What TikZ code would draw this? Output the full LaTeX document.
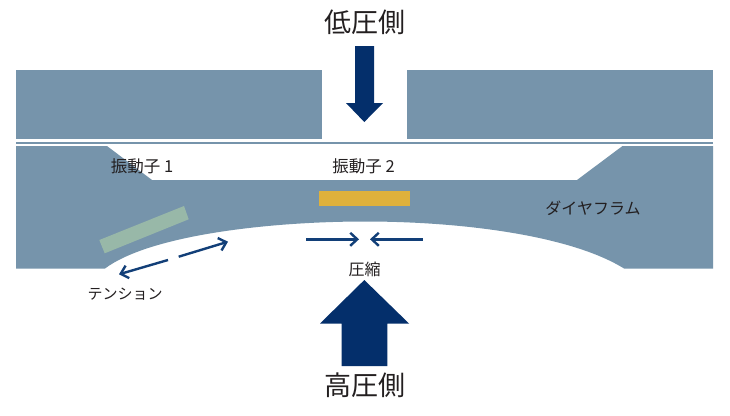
\documentclass[tikz,border=0pt]{standalone}
\usepackage{fontspec}
\setmainfont{Noto Sans CJK JP}
\usetikzlibrary{arrows.meta}
\definecolor{steel}{HTML}{7694AB}
\definecolor{navy}{HTML}{042F6B}
\definecolor{lnavy}{HTML}{123F78}
\definecolor{sage}{HTML}{98B8A8}
\definecolor{gold}{HTML}{DFB13C}
\definecolor{ink}{HTML}{231F20}
\tikzset{
 body/.style={fill=steel,draw=none},
 bigarrow/.style={fill=navy,draw=none},
 motion/.style={draw=lnavy,line width=2.4pt,-{Straight Barb[length=7pt,width=13pt,line width=2.4pt]}},
 small/.style={text=ink,font=\fontsize{16}{18}\selectfont,inner sep=0pt},
 wider/.style={text=ink,font=\fontsize{16.5}{18}\selectfont,inner sep=0pt},
 tiny/.style={text=ink,font=\fontsize{15}{18}\selectfont,inner sep=0pt},
 big/.style={text=ink,font=\fontsize{27}{30}\selectfont,inner sep=0pt},
}
\begin{document}
\begin{tikzpicture}[x=1pt,y=-1pt]
\useasboundingbox (0,0) rectangle (730,415);
\fill[white] (0,0) rectangle (730,415);
% blocks
\fill[body] (16,70) rectangle (322,139);
\fill[body] (407,70) rectangle (713,139);
\fill[body] (16,142) rectangle (713,143.7);
% diaphragm
\fill[body] (16,146) -- (107,146) -- (152,180) -- (577,180) -- (622.5,146) -- (713,146) -- (713,268.5) -- (624,268.5)
 .. controls (570,235) and (460,221.5) .. (365,221.5)
 .. controls (270,221.5) and (150,235) .. (105,268.5) -- (16,268.5) -- cycle;
% gauges
\fill[sage] (99.3,240) -- (184,206) -- (188.7,219.3) -- (104.7,253.3) -- cycle;
\fill[gold] (319,191.3) rectangle (410,206);
% big arrows
\fill[bigarrow] (355,46) -- (374,46) -- (374,103) -- (383,103) -- (364.3,122) -- (346,103) -- (355,103) -- cycle;
\fill[bigarrow] (341.5,366) -- (387.3,366) -- (387.3,323.5) -- (409,323.5) -- (364.3,280) -- (320,323.5) -- (341.5,323.5) -- cycle;
% motion arrows
\coordinate (t1s) at (168,260); \coordinate (t1e) at (119,274.3);
\coordinate (t2s) at (178.7,256.7); \coordinate (t2e) at (228,241.7);
\coordinate (c1s) at (306,239.3); \coordinate (c1e) at (359,239.3);
\coordinate (c2s) at (422.7,239.3); \coordinate (c2e) at (370,239.3);
\draw[motion] (t1s) -- (t1e);
\draw[motion] (t2s) -- (t2e);
\draw[motion] (c1s) -- (c1e);
\draw[motion] (c2s) -- (c2e);
% labels
\node[big] (low) at (364.5,22.5) {低圧側};
\node[big] (high) at (364.5,385) {高圧側};
\node[wider] (v1) at (142,166.5) {振動子 1};
\node[wider] (v2) at (363.5,166.5) {振動子 2};
\node[small] (dia) at (593,208.5) {ダイヤフラム};
\node[tiny] (ten) at (125,294.5) {テンション};
\node[small] (com) at (364.5,269) {圧縮};
\end{tikzpicture}
\end{document}
